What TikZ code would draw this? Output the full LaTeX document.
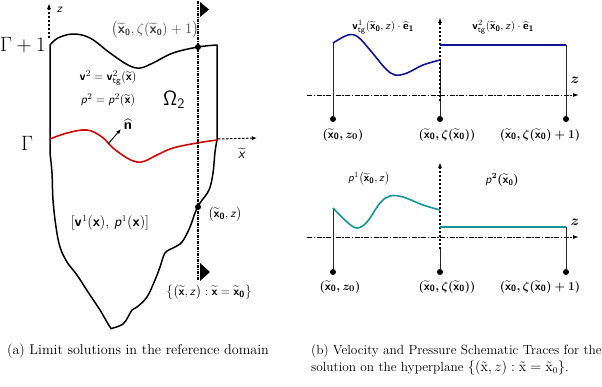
\documentclass[tikz,border=0pt]{standalone}
\usepackage{amsmath}
\usetikzlibrary{arrows.meta}
\DeclareMathAlphabet{\msb}{OT1}{cmss}{bx}{n}
\DeclareMathAlphabet{\msi}{OT1}{cmss}{m}{sl}
\DeclareMathAlphabet{\msr}{OT1}{cmss}{m}{n}
\definecolor{myred}{RGB}{204,10,10}
\definecolor{myblue}{RGB}{20,20,150}
\definecolor{myteal}{RGB}{20,150,150}
\newcommand{\xt}{\widetilde{\msb{x}}}
\newcommand{\xo}{\widetilde{\msb{x}}_{\msb{0}}}
\begin{document}
\begin{tikzpicture}[x=1pt,y=-1pt,
  outline/.style={line width=1.5pt, line join=round},
  vdd/.style={line width=1.8pt, dash pattern=on 3pt off 1pt on 1pt off 1pt},
  axdd/.style={line width=1pt, dash pattern=on 5pt off 1.5pt on 1.5pt off 1.5pt, -{Latex[length=6pt,width=4pt]}},
  dsh/.style={line width=1.2pt, dash pattern=on 2.5pt off 1.5pt, -{Latex[length=6pt,width=4pt]}},
  dotn/.style={circle, fill, inner sep=0pt, minimum size=6pt},
  thinl/.style={line width=0.6pt, black!85},
  tri/.style={fill=black},
  lbl/.style={font=\fontsize{12.5}{15}\selectfont, inner sep=1pt},
  blbl/.style={font=\boldmath\fontsize{12.5}{15}\selectfont, inner sep=1pt},
  slbl/.style={font=\fontsize{11}{13}\selectfont, inner sep=1pt},
  big/.style={font=\fontsize{22}{26}\selectfont, inner sep=1pt},
  capa/.style={font=\fontsize{14.2}{17}\selectfont, inner sep=0pt},
  capb/.style={font=\fontsize{13.3}{16}\selectfont, inner sep=0pt, anchor=west}]
\useasboundingbox (0,0) rectangle (602,386);

% ---------------- Left panel ----------------
\coordinate (za) at (49,38);
\coordinate (zb) at (49,3);
\draw[dsh] (za) -- (zb);
\node[lbl, font=\fontsize{13}{15}\selectfont] (zl) at (60,10) {$\msi{z}$};

\draw[outline] plot[smooth, tension=0.6] coordinates {(50,45) (58,38) (73,34) (90,38) (110,53) (128,65) (140,68) (153,63) (173,53) (198,47) (217,45)}
  -- (217,140)
  plot[smooth, tension=0.6] coordinates {(217,140) (215,152) (213,173) (209,190) (200,203) (195,213) (190,227) (182,242) (173,248) (165,253) (160,267) (155,280) (147,297) (137,307) (132,310) (128,317) (123,324) (113,328) (110,327) (100,310) (88,292) (77,275) (67,262) (60,247) (56,227) (53,200) (52,173) (50,153)}
  -- (50,45);

\draw[myred, line width=1.6pt] plot[smooth, tension=0.6] coordinates {(50,139) (67,133) (87,130) (102,137) (113,148) (127,158) (137,162) (145,161) (157,155) (173,148) (197,143) (217,140)};

\coordinate (nb) at (108,144);
\coordinate (nt) at (121,129);
\draw[line width=0.9pt, -{Latex[length=5pt,width=4pt]}] (nb) -- (nt);
\node[lbl, font=\fontsize{14}{16}\selectfont] (nl) at (128,124) {$\widehat{\msb{n}}$};

\coordinate (xa) at (218,139);
\coordinate (xb) at (257,138);
\draw[line width=1pt, dash pattern=on 2.5pt off 1.5pt, -{Latex[length=5pt,width=4pt]}] (xa) -- (xb);
\node[lbl, font=\fontsize{14}{16}\selectfont] (xl) at (242,153) {$\widetilde{\msi{x}}$};

\coordinate (va) at (198,1);
\coordinate (vb) at (198,281);
\draw[vdd] (va) -- (vb);
\fill[tri] (200,2) -- (209,9.5) -- (200,17) -- cycle;
\fill[tri] (200,263) -- (210,272) -- (200,281) -- cycle;

\node[dotn] (d1) at (198,47) {};
\node[dotn] (d2) at (198,207) {};

\node[big] (g1) at (23,45) {$\Gamma+1$};
\node[big] (g0) at (27,143) {$\Gamma$};
\node[lbl, font=\fontsize{13.5}{16}\selectfont, text=black!75] (tl) at (155,30) {$\big(\xo,\zeta(\xo)+1\big)$};
\node[lbl] (e1) at (108,78) {$\msb{v}^2=\msb{v}^2_{\msr{tg}}(\xt)$};
\node[lbl] (e2) at (108,100) {$\msi{p}^2=\msi{p}^2(\xt)$};
\node[big, font=\fontsize{21}{24}\selectfont] (om) at (174,100) {$\msr{\Omega}_{\msr{2}}$};
\node[lbl, font=\fontsize{13.5}{16}\selectfont] (e3) at (110,223) {$[\msb{v}^1(\msb{x}),\,\msi{p}^1(\msb{x})]$};
\node[lbl] (pz) at (225,214) {$\big(\xo,\msi{z}\big)$};
\node[lbl] (hp) at (209,292) {$\big\{\big(\xt,\msi{z}\big):\xt=\xo\big\}$};

% ---------------- Right top ----------------
\coordinate (ta) at (307,95);
\coordinate (tb) at (579,95);
\draw[axdd] (ta) -- (tb);
\node[blbl, font=\boldmath\fontsize{14}{16}\selectfont] (tz) at (575,80) {$z$};

\node[dotn] (t1) at (333,119) {};
\node[dotn] (t2) at (440,119) {};
\node[dotn] (t3) at (566,119) {};
\coordinate (c1) at (333,43);
\coordinate (c2) at (440,60);
\coordinate (c3) at (566,45);
\coordinate (c4) at (440,45);
\draw[thinl] (t1) -- (c1);
\draw[thinl] (t2) -- (c2);
\draw[thinl] (t3) -- (c3);
\coordinate (tva) at (440,101);
\coordinate (tvb) at (440,17);
\draw[dsh] (tva) -- (tvb);
\draw[myblue, line width=1.6pt] plot[smooth, tension=0.6] coordinates {(333,43) (348,35) (358,37) (370,50) (385,68) (395,75) (407,73) (423,65) (440,60)};
\draw[myblue, line width=2pt] (c4) -- (c3);

\node[slbl] (v1) at (383,27) {$\msb{v}^1_{\msr{tg}}(\xo,\msi{z})\cdot\widehat{\msb{e}}_{\msb{1}}$};
\node[slbl] (v2) at (503,27) {$\msb{v}^2_{\msr{tg}}(\xo,\msi{z})\cdot\widehat{\msb{e}}_{\msb{1}}$};
\node[blbl] (l1) at (343,135) {$(\xo,z_0)$};
\node[blbl] (l2) at (447,135) {$(\xo,\zeta(\xo))$};
\node[blbl] (l3) at (540,135) {$(\xo,\zeta(\xo)+1)$};

% ---------------- Right bottom ----------------
\coordinate (ba) at (307,237);
\coordinate (bb) at (579,237);
\draw[axdd] (ba) -- (bb);
\node[blbl, font=\boldmath\fontsize{14}{16}\selectfont] (bz) at (575,222) {$z$};

\node[dotn] (b1) at (333,272) {};
\node[dotn] (b2) at (440,272) {};
\node[dotn] (b3) at (566,272) {};
\coordinate (e1a) at (333,208);
\coordinate (e2a) at (440,247);
\coordinate (e3a) at (566,227);
\coordinate (e4a) at (440,227);
\draw[thinl] (b1) -- (e1a);
\draw[thinl] (b2) -- (e2a);
\draw[thinl] (b3) -- (e3a);
\coordinate (bva) at (440,249);
\coordinate (bvb) at (440,162);
\draw[dsh] (bva) -- (bvb);
\draw[myteal, line width=1.6pt] plot[smooth, tension=0.6] coordinates {(333,208) (347,222) (357,228) (367,222) (380,203) (390,196) (403,197) (423,205) (440,210)};
\draw[myteal, line width=2pt] (e4a) -- (e3a);

\node[slbl] (p1) at (369,179) {$\msi{p}^1\big(\xo,\msi{z}\big)$};
\node[blbl, font=\boldmath\fontsize{11.5}{14}\selectfont] (p2) at (502,180) {$\msi{p}^{2}(\xo)$};
\node[blbl] (m1) at (340,287) {$(\xo,z_0)$};
\node[blbl] (m2) at (447,287) {$(\xo,\zeta(\xo))$};
\node[blbl] (m3) at (540,287) {$(\xo,\zeta(\xo)+1)$};

% ---------------- Captions ----------------
\node[capa] (ca) at (138,351) {(a) Limit solutions in the reference domain};
\node[capb] (cb1) at (311,351) {(b) Velocity and Pressure Schematic Traces for the};
\node[capb] (cb2) at (311,368) {solution on the hyperplane $\{(\tilde{\mathrm{x}},z):\tilde{\mathrm{x}}=\tilde{\mathrm{x}}_0\}$.};
\end{tikzpicture}
\end{document}
